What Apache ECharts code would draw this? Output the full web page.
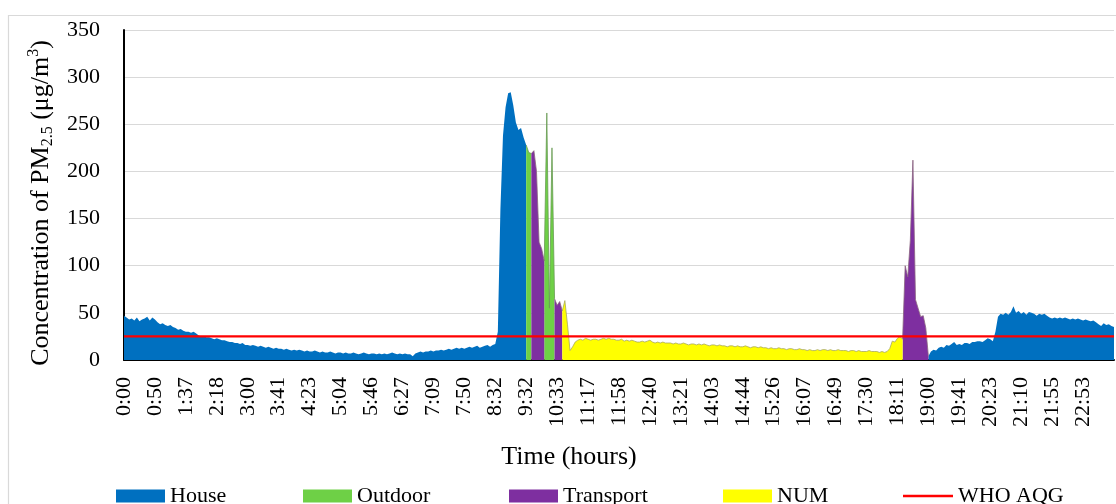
<!DOCTYPE html>
<html>
<head>
<meta charset="utf-8">
<script src="https://cdn.jsdelivr.net/npm/echarts@6/dist/echarts.min.js"></script>
<style>
  html, body { margin: 0; padding: 0; background: #ffffff; }
  #chart { width: 1116px; height: 504px; }
</style>
</head>
<body>
<div id="chart"></div>
<script>
// Time-of-day tick labels, one every 12 samples
const timeLabels = [
  '0:00', '0:50', '1:37', '2:18', '3:00', '3:41', '4:23', '5:04', '5:46', '6:27', '7:09', '7:50',
  '8:32', '9:32', '10:33', '11:17', '11:58', '12:40', '13:21', '14:03', '14:44', '15:26', '16:07', '16:49',
  '17:30', '18:11', '19:00', '19:41', '20:23', '21:10', '21:55', '22:53'
];
const samplesPerLabel = 12;

// PM2.5 concentration (µg/m3), one row per tick interval
const pm25 = [
  47, 45, 43, 44, 42, 45, 41, 43, 44, 46, 42, 45,
  43, 40, 38, 39, 37, 36, 37, 35, 34, 32, 33, 31,
  30, 30, 29, 30, 28, 26, 25, 25, 24, 24, 23, 22,
  23, 22, 21, 21, 20, 19, 19, 18, 18, 17, 18, 16,
  16, 15, 16, 15, 14, 15, 14, 13, 14, 13, 12, 13,
  12, 12, 11, 12, 11, 10, 11, 10, 11, 10, 9, 10,
  9, 9, 10, 9, 8, 9, 8, 8, 9, 8, 7, 8,
  8, 7, 8, 7, 7, 8, 7, 6, 7, 8, 7, 6,
  7, 7, 6, 7, 6, 7, 6, 7, 8, 7, 6, 7,
  6, 7, 6, 6, 4, 7, 8, 9, 8, 9, 9, 10,
  9, 10, 10, 11, 10, 11, 12, 11, 12, 13, 12, 13,
  12, 13, 14, 13, 14, 15, 13, 14, 15, 16, 14, 16,
  17, 30, 160, 238, 268, 283, 284, 270, 252, 244, 246, 236,
  228, 220, 219, 222, 200, 125, 118, 105, 262, 55, 225, 65,
  58, 62, 52, 63, 38, 10, 14, 19, 21, 22, 21, 23,
  22, 21, 22, 22, 21, 22, 23, 22, 23, 22, 22, 21,
  21, 22, 20, 21, 20, 21, 20, 19, 19, 20, 19, 20,
  21, 19, 18, 19, 18, 19, 18, 18, 18, 17, 18, 17,
  17, 18, 17, 16, 17, 17, 16, 17, 16, 17, 16, 15,
  16, 16, 15, 16, 15, 15, 14, 15, 15, 14, 15, 14,
  14, 15, 14, 13, 14, 14, 13, 14, 13, 13, 12, 13,
  12, 12, 13, 12, 12, 11, 12, 12, 11, 11, 12, 11,
  11, 10, 11, 10, 10, 11, 10, 11, 11, 10, 11, 10,
  10, 11, 10, 10, 10, 9, 10, 10, 9, 10, 9, 9,
  9, 10, 9, 9, 9, 8, 9, 8, 9, 12, 20, 19,
  23, 25, 22, 100, 88, 127, 212, 64, 55, 46, 47, 34,
  4, 9, 11, 10, 13, 14, 13, 16, 15, 17, 19, 16,
  17, 16, 18, 18, 17, 19, 19, 20, 20, 19, 21, 23,
  22, 20, 30, 46, 49, 48, 50, 48, 51, 57, 50, 52,
  49, 51, 48, 51, 50, 49, 47, 49, 48, 49, 47, 45,
  44, 45, 44, 45, 44, 45, 44, 43, 44, 43, 44, 43,
  42, 43, 42, 41, 42, 40, 38, 36, 39, 37, 38, 36,
  35
];

// Activity diary: microenvironment and number of consecutive samples
const diary = [
  ['House', 156],
  ['Outdoor', 2],
  ['Transport', 5],
  ['Outdoor', 4],
  ['Transport', 3],
  ['NUM', 132],
  ['Transport', 10],
  ['House', 73]
];

const environments = ['House', 'Outdoor', 'Transport', 'NUM'];
const envColors = { House: '#0070C0', Outdoor: '#6ED046', Transport: '#7E2FA0', NUM: '#FFFF00' };
const envEdges = { House: 'rgba(0,0,0,0)', Outdoor: '#6a9a55', Transport: '#8a6580', NUM: '#a8a860' };
const whoAqg = 25;
const whoLabel = 'WHO AQG';

const FONT = 'Liberation Serif';
const lastIndex = pm25.length - 1;

// Split the concentration trace by microenvironment; each run also keeps
// the first sample of the next run so neighbouring areas meet edge to edge.
const envData = {};
environments.forEach(e => { envData[e] = pm25.map(() => null); });
let start = 0;
diary.forEach(([env, count]) => {
  const end = Math.min(start + count, lastIndex);
  for (let k = start; k <= end; k++) envData[env][k] = pm25[k];
  start += count;
});

const areaSeries = environments.map(env => ({
  name: env,
  type: 'line',
  data: envData[env].map((v, i) => [i, v]),
  connectNulls: false,
  symbol: 'none',
  showSymbol: false,
  color: envColors[env],
  itemStyle: { color: envColors[env] },
  lineStyle: { width: env === 'House' ? 0 : 0.8, color: envEdges[env] },
  areaStyle: { color: envColors[env], opacity: 1 },
  emphasis: { disabled: true },
  z: 2
}));

const whoSeries = {
  name: whoLabel,
  type: 'line',
  data: [[0, whoAqg], [lastIndex, whoAqg]],
  symbol: 'none',
  showSymbol: false,
  color: '#FF0000',
  itemStyle: { color: '#FF0000' },
  lineStyle: { color: '#FF0000', width: 2.3 },
  emphasis: { disabled: true },
  z: 5
};

// One legend block per entry, laid out along the bottom edge
const legendNames = environments.concat([whoLabel]);
const legendLeft = [116, 303, 509, 723, 903];
const legends = legendNames.map((name, k) => ({
  left: legendLeft[k],
  top: 485,
  padding: 0,
  icon: 'rect',
  itemWidth: name === whoLabel ? 50 : 49,
  itemHeight: name === whoLabel ? 2.5 : 13,
  itemGap: 0,
  selectedMode: false,
  itemStyle: { borderWidth: 0 },
  textStyle: { fontFamily: FONT, fontSize: 22, color: '#000000' },
  data: [name]
}));

const chart = echarts.init(document.getElementById('chart'), null, { renderer: 'canvas' });
chart.setOption({
  animation: false,
  backgroundColor: '#ffffff',
  textStyle: { fontFamily: FONT, color: '#000000' },
  graphic: [{
    type: 'rect',
    silent: true,
    z: -10,
    shape: { x: 8.5, y: 15.5, width: 1200, height: 600 },
    style: { fill: 'none', stroke: '#d9d9d9', lineWidth: 1.2 }
  }],
  grid: { left: 124, right: 2, top: 30, bottom: 144 },
  legend: legends,
  xAxis: {
    type: 'value',
    min: 0,
    max: lastIndex,
    interval: samplesPerLabel,
    name: 'Time (hours)',
    nameLocation: 'middle',
    nameGap: 84,
    nameTextStyle: { fontFamily: FONT, fontSize: 26, color: '#000000', padding: [0, 100, 0, 0] },
    axisLine: { show: true, lineStyle: { color: '#000000', width: 2 } },
    axisTick: { show: false },
    splitLine: { show: false },
    axisLabel: {
      rotate: 90,
      margin: 17,
      fontFamily: FONT,
      fontSize: 22,
      color: '#000000',
      formatter: v => {
        const j = Math.round(v / samplesPerLabel);
        return timeLabels[j] !== undefined ? timeLabels[j] : '';
      }
    }
  },
  yAxis: {
    type: 'value',
    min: 0,
    max: 350,
    interval: 50,
    name: 'Concentration of PM{sub|2.5} (μg/m{sup|3})',
    nameLocation: 'middle',
    nameRotate: 90,
    nameGap: 68,
    nameTextStyle: {
      fontFamily: FONT,
      fontSize: 26,
      lineHeight: 30,
      color: '#000000',
      padding: [0, 16, 0, 0],
      rich: {
        sub: { fontFamily: FONT, fontSize: 16, lineHeight: 16, verticalAlign: 'bottom', color: '#000000' },
        sup: { fontFamily: FONT, fontSize: 16, lineHeight: 16, verticalAlign: 'top', color: '#000000' }
      }
    },
    axisLine: { show: true, lineStyle: { color: '#000000', width: 2 } },
    axisTick: { show: false },
    splitLine: { show: true, lineStyle: { color: '#d9d9d9', width: 1 } },
    axisLabel: { margin: 24, fontFamily: FONT, fontSize: 22, color: '#000000' }
  },
  series: areaSeries.concat([whoSeries])
});
</script>
</body>
</html>
